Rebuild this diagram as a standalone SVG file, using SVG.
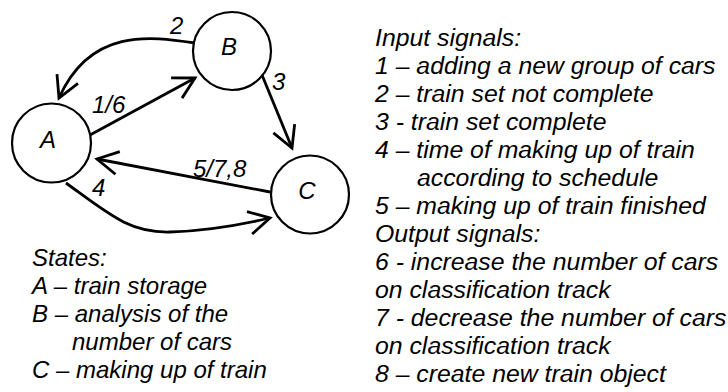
<svg xmlns="http://www.w3.org/2000/svg" width="728" height="392" viewBox="0 0 728 392">
<style>
text{font-family:"Liberation Sans",Arial,sans-serif;font-style:italic;font-size:24px;fill:#000}
#legend-signals text{font-size:24.8px}
.node circle{fill:#fff;stroke:#000;stroke-width:2.2}
.node text{text-anchor:middle}
.edge{fill:none;stroke:#000;stroke-width:2.8;marker-end:url(#arr)}
</style>
<defs>
<marker id="arr" markerUnits="userSpaceOnUse" markerWidth="30" markerHeight="30" refX="0" refY="0" viewBox="-25 -15 30 30" orient="auto" overflow="visible">
<path d="M-21,-11.5 L0,0 L-21,11.5" fill="none" stroke="#000" stroke-width="2.8" stroke-linejoin="miter" stroke-linecap="butt"/>
</marker>
</defs>
<rect width="728" height="392" fill="#fff"/>
<g id="connectors">
<path class="edge" d="M195,43 C150,36 90,28 59,98"/>
<path class="edge" d="M90,135 L195,78"/>
<path class="edge" d="M262,75 L292,148"/>
<path class="edge" d="M270,192 L97,159"/>
<path class="edge" d="M66,183 C110,215 130,233 170,232 C205,231 240,225 270,218"/>
<text x="170" y="34">2</text>
<text x="92" y="113">1/6</text>
<text x="272" y="90">3</text>
<text x="193" y="177">5/7,8</text>
<text x="92" y="196">4</text>
</g>
<g id="node-A" class="node"><circle cx="51.5" cy="143" r="39.5"/><text x="48" y="148">A</text></g>
<g id="node-B" class="node"><circle cx="232" cy="51" r="39"/><text x="229" y="55">B</text></g>
<g id="node-C" class="node"><circle cx="310" cy="194.5" r="39"/><text x="307" y="199">C</text></g>
<g id="legend-states">
<text x="32" y="266">States:</text>
<text x="32" y="294">A – train storage</text>
<text x="32" y="322">B – analysis of the</text>
<text x="72" y="350">number of cars</text>
<text x="32" y="378">C – making up of train</text>
</g>
<g id="legend-signals">
<text x="375" y="46">Input signals:</text>
<text x="375" y="74">1 – adding a new group of cars</text>
<text x="375" y="102">2 – train set not complete</text>
<text x="375" y="130">3 - train set complete</text>
<text x="375" y="158">4 – time of making up of train</text>
<text x="417" y="186">according to schedule</text>
<text x="375" y="214">5 – making up of train finished</text>
<text x="375" y="242">Output signals:</text>
<text x="375" y="270">6 - increase the number of cars</text>
<text x="375" y="298">on classification track</text>
<text x="375" y="326">7 - decrease the number of cars</text>
<text x="375" y="354">on classification track</text>
<text x="375" y="382">8 – create new train object</text>
</g>
</svg>
